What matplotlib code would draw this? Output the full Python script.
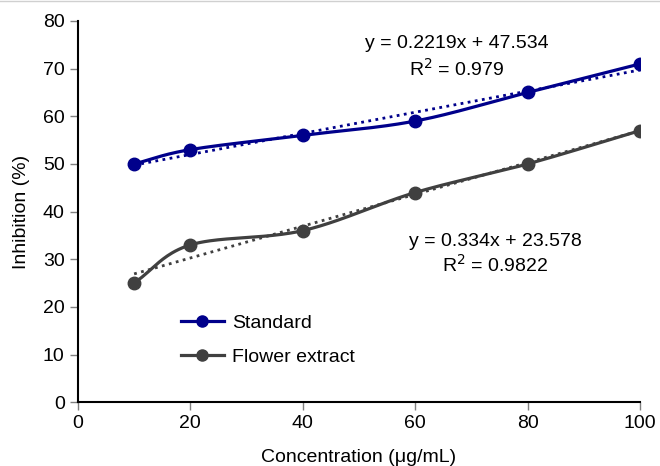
import numpy as np
import matplotlib.pyplot as plt
from matplotlib.lines import Line2D

plt.rcParams['font.family'] = ['Liberation Sans', 'DejaVu Sans']

# concentração e inibição medidas
conc = [10, 20, 40, 60, 80, 100]
standard = [50, 53, 56, 59, 65, 71]
flower = [25, 33, 36, 44, 50, 57]

# retas de tendência (coeficientes do ajuste linear)
std_fit = (0.2219, 47.534, 0.979)
flw_fit = (0.334, 23.578, 0.9822)

x_ticks = [0, 20, 40, 60, 80, 100]
y_ticks = [0, 10, 20, 30, 40, 50, 60, 70, 80]

fs = 14


def suaviza(x, y, n=40):
    # spline de Catmull-Rom, parecida com a linha suavizada do Excel
    x = np.asarray(x, float)
    y = np.asarray(y, float)
    px = np.concatenate([[2 * x[0] - x[1]], x, [2 * x[-1] - x[-2]]])
    py = np.concatenate([[2 * y[0] - y[1]], y, [2 * y[-1] - y[-2]]])
    xs, ys = [], []
    t = np.linspace(0, 1, n)
    for i in range(1, len(px) - 2):
        b = [(px[i], py[i]),
             (px[i] + (px[i + 1] - px[i - 1]) / 6, py[i] + (py[i + 1] - py[i - 1]) / 6),
             (px[i + 1] - (px[i + 2] - px[i]) / 6, py[i + 1] - (py[i + 2] - py[i]) / 6),
             (px[i + 1], py[i + 1])]
        for k in range(2):
            c = ((1 - t) ** 3 * b[0][k] + 3 * (1 - t) ** 2 * t * b[1][k]
                 + 3 * (1 - t) * t ** 2 * b[2][k] + t ** 3 * b[3][k])
            (xs if k == 0 else ys).extend(c)
    return xs, ys


fig = plt.figure(figsize=(6.6, 4.66), dpi=100)
ax = fig.add_axes([0.118, 0.137, 0.852, 0.818])

cores = {'Standard': '#00008b', 'Flower extract': '#404040'}
series = [('Standard', standard, std_fit), ('Flower extract', flower, flw_fit)]

xt = np.array([conc[0], conc[-1]], float)
for nome, y, (a, b, r2) in series:
    cor = cores[nome]
    sx, sy = suaviza(conc, y)
    ax.plot(sx, sy, color=cor, lw=2.3, zorder=3)
    ax.plot(conc, y, 'o', color=cor, ms=9, zorder=4)
    ax.plot(xt, a * xt + b, color=cor, lw=2, ls=(0, (1, 1.6)), zorder=2)

ax.text(67.4, 75.3, 'y = %.4fx + %.3f' % (std_fit[0], std_fit[1]), ha='center', va='center', fontsize=fs)
ax.text(67.4, 70.0, 'R$^{2}$ = %.3f' % std_fit[2], ha='center', va='center', fontsize=fs)
ax.text(74.2, 33.7, 'y = %.3fx + %.3f' % (flw_fit[0], flw_fit[1]), ha='center', va='center', fontsize=fs)
ax.text(74.2, 28.8, 'R$^{2}$ = %.4f' % flw_fit[2], ha='center', va='center', fontsize=fs)

ax.set_xlim(0, 100)
ax.set_ylim(0, 80)
ax.set_xticks(x_ticks)
ax.set_yticks(y_ticks)
ax.tick_params(labelsize=fs, length=6, width=1, color='#808080', direction='out')
for lado in ['top', 'right']:
    ax.spines[lado].set_visible(False)
for lado in ['left', 'bottom']:
    ax.spines[lado].set_linewidth(1.5)
    ax.spines[lado].set_color('black')

ax.set_xlabel('Concentration (μg/mL)', fontsize=fs, labelpad=12)
ax.set_ylabel('Inhibition (%)', fontsize=fs, labelpad=9)

handles = [Line2D([], [], color=cores[n], lw=2.3, marker='o', ms=8) for n, _, _ in series]
ax.legend(handles, [n for n, _, _ in series], loc='lower left', bbox_to_anchor=(0.183, 0.095),
          frameon=False, fontsize=fs, handlelength=2.2, handletextpad=0.45, labelspacing=0.85,
          borderpad=0, borderaxespad=0)

fig.add_artist(Line2D([0, 1], [0.997, 0.997], color='#d0d0d0', lw=1, transform=fig.transFigure))

plt.savefig('out.png', dpi=100)
plt.close()
